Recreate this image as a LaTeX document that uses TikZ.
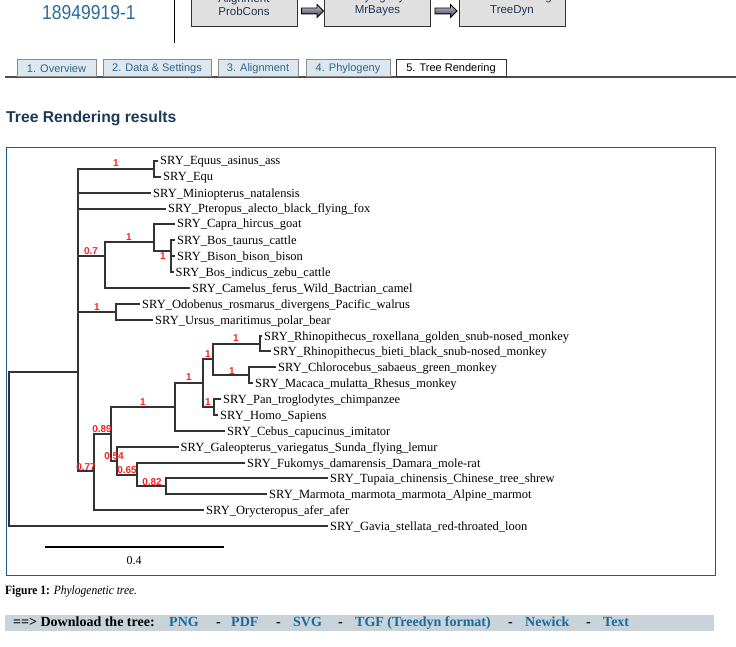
\documentclass[tikz,border=0pt]{standalone}
\usepackage{fontspec}
\setmainfont{Liberation Serif}
\newfontfamily\arialfont{Liberation Sans}
\usetikzlibrary{shapes.arrows,shadings}
\definecolor{treeline}{HTML}{333333}
\definecolor{bsred}{HTML}{FF2020}
\definecolor{frameblue}{HTML}{1E5A85}
\definecolor{headnavy}{HTML}{1B3A57}
\definecolor{idblue}{HTML}{2B6C9C}
\definecolor{tabfill}{HTML}{DDE8EE}
\definecolor{tabborder}{HTML}{8A8A8A}
\definecolor{tabtext}{HTML}{2F6590}
\definecolor{boxfill}{HTML}{E0E0E0}
\definecolor{boxtext}{HTML}{1D3557}
\definecolor{barfill}{HTML}{C8D3DA}
\definecolor{linkblue}{HTML}{1A6AA0}
\begin{document}
\begin{tikzpicture}[x=1pt,y=-1pt,
  leaf/.style={anchor=west, inner xsep=3pt, inner ysep=0pt, text height=10pt, text depth=2pt,
    font=\fontsize{12.5}{14}\selectfont},
  bs/.style={inner sep=0pt, text=bsred, font=\arialfont\bfseries\fontsize{10}{11}\selectfont},
  edge/.style={draw=treeline, line width=2pt, line cap=rect},
  tab/.style={draw=tabborder, fill=tabfill, line width=1pt, minimum height=17pt, inner sep=0pt,
    text=tabtext, font=\arialfont\fontsize{11}{12}\selectfont},
  stagebox/.style={draw=black!80, fill=boxfill, line width=1pt, minimum width=106pt, minimum height=44pt, inner sep=0pt},
  stagetext/.style={align=center, text=boxtext, inner sep=0pt, font=\arialfont\fontsize{11.5}{13}\selectfont},
  stagearrow/.style={single arrow, draw=black, line width=0.8pt, minimum height=22pt, inner xsep=0pt, inner ysep=2.5pt,
    single arrow head extend=3.5pt, top color=black!20, bottom color=black!75!blue!60!gray},
  dl/.style={anchor=west, inner sep=0pt, text height=10pt, text depth=3pt, font=\bfseries\fontsize{14}{16}\selectfont},
  dllink/.style={dl, text=linkblue}
]
\useasboundingbox (0,0) rectangle (736,647);
\clip (0,0) rectangle (736,647);
\fill[white] (0,0) rectangle (736,647);

% ---- header ----
\node[anchor=west, inner sep=0pt, text=idblue, font=\arialfont\fontsize{17.5}{20}\selectfont] (pid) at (42,13) {\scalebox{1}[1.15]{18949919-1}};
\draw[black, line width=1pt] (174,0) -- (174,43);

\node[stagebox] (b1) at (244,5) {};
\node[stagebox] (b2) at (377.5,5) {};
\node[stagebox] (b3) at (512,5) {};
\node[stagetext] (b1t) at (244,4.5) {Alignment\\ProbCons};
\node[stagetext] (b2t) at (377.5,4.5) {Phylogeny\\MrBayes};
\node[stagetext] (b3t) at (512,4.5) {Tree Rendering\\TreeDyn};
\node[stagearrow] (a1) at (311,11) {};
\node[stagearrow] (a2) at (444.5,11) {};

% ---- tabs ----
\draw[black!70, line width=1.5pt] (5,77) -- (736,77);
\node[tab, minimum width=79pt] (tab1) at (56.5,68.5) {1. Overview};
\node[tab, minimum width=108pt] (tab2) at (157,68.5) {2. Data \& Settings};
\node[tab, minimum width=80pt] (tab3) at (258,68.5) {3. Alignment};
\node[tab, minimum width=84pt] (tab4) at (348,68.5) {4. Phylogeny};
\node[tab, minimum width=110pt, fill=white, draw=black!80, text=black] (tab5) at (451,68.5) {5. Tree Rendering};

% ---- heading ----
\node[anchor=west, inner sep=0pt, text=headnavy, font=\arialfont\bfseries\fontsize{15.7}{18}\selectfont] (head) at (6,118) {Tree Rendering results};

% ---- frame ----
\draw[frameblue, line width=1pt] (6,148) rectangle (715,575);

% ---- leaves ----
\node[leaf] (t1) at (157,161) {SRY\_Equus\_asinus\_ass};
\node[leaf] (t2) at (160,177) {SRY\_Equ};
\node[leaf] (t3) at (150,193) {SRY\_Miniopterus\_natalensis};
\node[leaf] (t4) at (165,209) {SRY\_Pteropus\_alecto\_black\_flying\_fox};
\node[leaf] (t5) at (174,224) {SRY\_Capra\_hircus\_goat};
\node[leaf] (t6) at (174,240) {SRY\_Bos\_taurus\_cattle};
\node[leaf] (t7) at (174,256) {SRY\_Bison\_bison\_bison};
\node[leaf] (t8) at (172.5,272) {SRY\_Bos\_indicus\_zebu\_cattle};
\node[leaf] (t9) at (189,288) {SRY\_Camelus\_ferus\_Wild\_Bactrian\_camel};
\node[leaf] (t10) at (139,304) {SRY\_Odobenus\_rosmarus\_divergens\_Pacific\_walrus};
\node[leaf] (t11) at (152,320) {SRY\_Ursus\_maritimus\_polar\_bear};
\node[leaf] (t12) at (261,336) {SRY\_Rhinopithecus\_roxellana\_golden\_snub-nosed\_monkey};
\node[leaf] (t13) at (270,351) {SRY\_Rhinopithecus\_bieti\_black\_snub-nosed\_monkey};
\node[leaf] (t14) at (275,367) {SRY\_Chlorocebus\_sabaeus\_green\_monkey};
\node[leaf] (t15) at (252,383) {SRY\_Macaca\_mulatta\_Rhesus\_monkey};
\node[leaf] (t16) at (220,399) {SRY\_Pan\_troglodytes\_chimpanzee};
\node[leaf] (t17) at (217,415) {SRY\_Homo\_Sapiens};
\node[leaf] (t18) at (224,431) {SRY\_Cebus\_capucinus\_imitator};
\node[leaf] (t19) at (177.5,447) {SRY\_Galeopterus\_variegatus\_Sunda\_flying\_lemur};
\node[leaf] (t20) at (244,463) {SRY\_Fukomys\_damarensis\_Damara\_mole-rat};
\node[leaf] (t21) at (327,478) {SRY\_Tupaia\_chinensis\_Chinese\_tree\_shrew};
\node[leaf] (t22) at (266,494) {SRY\_Marmota\_marmota\_marmota\_Alpine\_marmot};
\node[leaf] (t23) at (203,510) {SRY\_Orycteropus\_afer\_afer};
\node[leaf] (t24) at (327,526) {SRY\_Gavia\_stellata\_red-throated\_loon};

% ---- internal nodes ----
\coordinate (R) at (9,372);
\coordinate (A) at (78,372);
\coordinate (nEq) at (154,169);
\coordinate (n07) at (105,256);
\coordinate (nCap) at (154,242);
\coordinate (nBos) at (171,251);
\coordinate (nOdo) at (116,312);
\coordinate (n077) at (94,471);
\coordinate (n089) at (111,434);
\coordinate (nPrim) at (175,407);
\coordinate (nCat) at (203,383);
\coordinate (nOW) at (213,359);
\coordinate (nRh) at (260,344);
\coordinate (nCh) at (249,375);
\coordinate (nPan) at (214,407);
\coordinate (n054) at (117,461);
\coordinate (n065) at (137,475);
\coordinate (n082) at (166,486);

\foreach \p/\c in {R/A, R/t24.west, A/nEq, A/t3.west, A/t4.west, A/n07, A/nOdo, A/n077,
  nEq/t1.west, nEq/t2.west, n07/nCap, n07/t9.west, nCap/t5.west, nCap/nBos,
  nBos/t6.west, nBos/t7.west, nBos/t8.west, nOdo/t10.west, nOdo/t11.west,
  n077/n089, n077/t23.west, n089/nPrim, n089/n054, nPrim/nCat, nPrim/t18.west,
  nCat/nOW, nCat/nPan, nOW/nRh, nOW/nCh, nRh/t12.west, nRh/t13.west,
  nCh/t14.west, nCh/t15.west, nPan/t16.west, nPan/t17.west,
  n054/t19.west, n054/n065, n065/t20.west, n065/n082, n082/t21.west, n082/t22.west}
  \draw[edge] (\p) |- (\c);

% ---- support values ----
\node[bs] (bEq) at (116,163) {1};
\node[bs] (b07) at (91,251) {0.7};
\node[bs] (bCap) at (129,237) {1};
\node[bs] (bBos) at (163,256) {1};
\node[bs] (bOdo) at (97,307) {1};
\node[bs] (bRh) at (236,338) {1};
\node[bs] (bOW) at (208,354) {1};
\node[bs] (bCh) at (232,371) {1};
\node[bs] (bCat) at (189,377) {1};
\node[bs] (bPan) at (208,402) {1};
\node[bs] (bPrim) at (143,402) {1};
\node[bs] (b089) at (102,429) {0.89};
\node[bs] (b054) at (114,456) {0.54};
\node[bs] (b065) at (127,470) {0.65};
\node[bs] (b082) at (152,482) {0.82};
\node[bs] (b077) at (86,467) {0.77};

% ---- scale bar ----
\coordinate (sb1) at (45,547);
\coordinate (sb2) at (224,547);
\draw[black, line width=2pt] (sb1) -- (sb2);
\node[inner sep=0pt, font=\fontsize{12}{14}\selectfont] (sbl) at (134,561) {0.4};

% ---- caption ----
\node[anchor=west, inner sep=0pt, font=\fontsize{11.5}{13}\selectfont] (cap) at (5,592) {\scalebox{1}[1.1]{\textbf{Figure 1:} \textit{Phylogenetic tree.}}};

% ---- download bar ----
\fill[barfill] (5,615) rectangle (714,631);
\node[dl] (dlh) at (13,623) {==> Download the tree:};
\node[dllink] (lpng) at (169,623) {PNG};
\node[dl] (s1) at (216,623) {-};
\node[dllink] (lpdf) at (231,623) {PDF};
\node[dl] (s2) at (276,623) {-};
\node[dllink] (lsvg) at (293,623) {SVG};
\node[dl] (s3) at (338,623) {-};
\node[dllink] (ltgf) at (355,623) {TGF (Treedyn format)};
\node[dl] (s4) at (508,623) {-};
\node[dllink] (lnew) at (525,623) {Newick};
\node[dl] (s5) at (586,623) {-};
\node[dllink] (ltxt) at (603,623) {Text};
\end{tikzpicture}
\end{document}
